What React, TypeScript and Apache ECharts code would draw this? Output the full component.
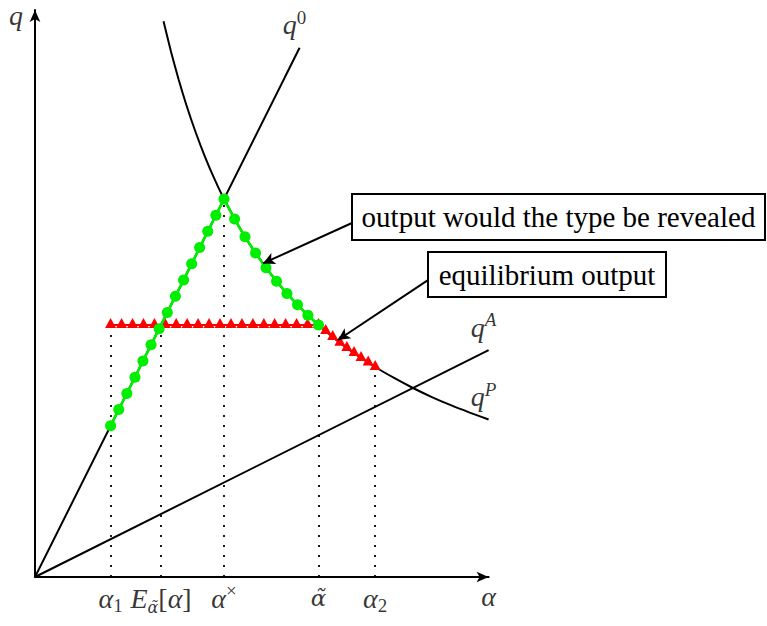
import React, { useEffect, useRef } from 'react';
import * as echarts from 'echarts';

const FONT = '"Liberation Serif", "Times New Roman", serif';
// a face with proper combining-mark placement, for the tilde accent
const ACCENT_FONT = '"DejaVu Serif", serif';

// axis extents: type α (horizontal) and output q (vertical)
const alphaMax = 2.4;
const qMax = 3;

// q^0 : straight line through the origin
const q0Alpha = [0, 1.4];
const q0Output = [0, 2.8];

// q^A : flatter line through the origin
const qAAlpha = [0, 2.4];
const qAOutput = [0, 1.2];

// q^P : decreasing convex curve
const qPAlpha = [0.68, 0.72, 0.76, 0.8, 0.85, 0.9, 0.95, 1.0, 1.1, 1.2, 1.3, 1.4, 1.5, 1.6, 1.7, 1.8, 1.9, 2.0, 2.1, 2.2, 2.3, 2.4];
const qPOutput = [2.941, 2.778, 2.632, 2.5, 2.353, 2.222, 2.105, 2.0, 1.818, 1.667, 1.538, 1.429, 1.333, 1.25, 1.176, 1.111, 1.053, 1.0, 0.952, 0.909, 0.87, 0.833];

// output would the type be revealed (green dots)
const revealedAlpha = [0.4, 0.443, 0.486, 0.529, 0.571, 0.614, 0.657, 0.7, 0.743, 0.786, 0.829, 0.871, 0.914, 0.957, 1.0, 1.056, 1.111, 1.167, 1.222, 1.278, 1.333, 1.389, 1.444, 1.5];
const revealedOutput = [0.8, 0.886, 0.971, 1.057, 1.143, 1.229, 1.314, 1.4, 1.486, 1.571, 1.657, 1.743, 1.829, 1.914, 2.0, 1.894, 1.8, 1.714, 1.636, 1.565, 1.5, 1.44, 1.385, 1.333];

// equilibrium output (red triangles)
const eqAlpha = [0.4, 0.458, 0.516, 0.574, 0.632, 0.689, 0.747, 0.805, 0.863, 0.921, 0.979, 1.037, 1.095, 1.153, 1.211, 1.268, 1.326, 1.384, 1.442, 1.5, 1.538, 1.575, 1.613, 1.65, 1.688, 1.725, 1.763, 1.8];
const eqOutput = [1.333, 1.333, 1.333, 1.333, 1.333, 1.333, 1.333, 1.333, 1.333, 1.333, 1.333, 1.333, 1.333, 1.333, 1.333, 1.333, 1.333, 1.333, 1.333, 1.333, 1.301, 1.27, 1.24, 1.212, 1.185, 1.159, 1.135, 1.111];

// marked types on the α axis, with the height of their dotted guides
const tickAlpha = [0.4, 0.667, 1.0, 1.5, 1.8];
const tickTop = [1.333, 1.333, 2.0, 1.333, 1.111];
const tickLabels = [
  '{m|α}{sub|1}',
  '{m|E}{subt|α̃}{r|[}{m|α}{r|]}',
  '{m|α}{sup|×}',
  '{t|α̃}',
  '{m|α}{sub|2}',
];

// curve names, anchored at each curve's end
const curveLabelAlpha = [1.4, 2.4, 2.4];
const curveLabelOutput = [2.8, 1.2, 0.833];
const curveLabels = ['{m|q}{sup|0}', '{m|q}{supm|A}', '{m|q}{supm|P}'];

// callouts: text, arrow start and arrow tip (data coordinates)
const calloutTexts = ['output would the type be revealed', 'equilibrium output'];
const calloutFrom = [[1.677, 1.873], [2.079, 1.571]];
const calloutTo = [[1.206, 1.659], [1.603, 1.254]];

const zip = (a: number[], b: number[]) => a.map((v, i) => [v, b[i]]);

const rich = {
  m: { fontFamily: FONT, fontStyle: 'italic', fontSize: 28, lineHeight: 34, color: '#000' },
  mt: { fontFamily: FONT, fontStyle: 'italic', fontSize: 28, lineHeight: 24, color: '#000' },
  t: { fontFamily: ACCENT_FONT, fontStyle: 'italic', fontSize: 23, lineHeight: 34, color: '#000' },
  r: { fontFamily: FONT, fontSize: 28, lineHeight: 34, color: '#000' },
  sub: { fontFamily: FONT, fontSize: 19, lineHeight: 18, verticalAlign: 'bottom', color: '#000' },
  subt: { fontFamily: ACCENT_FONT, fontStyle: 'italic', fontSize: 16, lineHeight: 14, verticalAlign: 'bottom', color: '#000' },
  sup: { fontFamily: FONT, fontSize: 19, lineHeight: 18, verticalAlign: 'top', color: '#000' },
  supm: { fontFamily: FONT, fontStyle: 'italic', fontSize: 19, lineHeight: 18, verticalAlign: 'top', color: '#000' },
};

const UNIT = 189; // pixels per unit on both axes
const ORIGIN_X = 35;
const ORIGIN_Y = 577;

const boxes = [
  { x: 352, y: 194, w: 413, h: 46 },
  { x: 428, y: 252, w: 238, h: 45 },
];

export default function App() {
  const ref = useRef<HTMLDivElement>(null);

  useEffect(() => {
    if (!ref.current) return;
    const chart = echarts.init(ref.current, null, { renderer: 'svg' });

    const black = { color: '#000', width: 2 };
    const labelPoint = (
      data: number[][],
      labels: string[],
      offset: number[],
    ) => ({
      type: 'scatter',
      silent: true,
      symbolSize: 1,
      itemStyle: { color: 'rgba(0,0,0,0)' },
      z: 6,
      data: data.map((d, i) => ({
        value: d,
        label: {
          show: true,
          position: 'inside',
          offset,
          formatter: labels[i],
          rich,
        },
      })),
    });

    const option: any = {
      animation: false,
      backgroundColor: '#fff',
      grid: {
        left: ORIGIN_X,
        top: ORIGIN_Y - qMax * UNIT,
        width: alphaMax * UNIT,
        height: qMax * UNIT,
      },
      xAxis: {
        type: 'value',
        min: 0,
        max: alphaMax,
        axisLine: {
          show: true,
          lineStyle: { color: '#000', width: 2 },
          symbol: ['none', 'arrow'],
          symbolSize: [8, 12],
        },
        axisTick: { show: false },
        axisLabel: { show: false },
        splitLine: { show: false },
      },
      yAxis: {
        type: 'value',
        min: 0,
        max: qMax,
        axisLine: {
          show: true,
          lineStyle: { color: '#000', width: 2 },
          symbol: ['none', 'arrow'],
          symbolSize: [8, 12],
        },
        axisTick: { show: false },
        axisLabel: { show: false },
        splitLine: { show: false },
      },
      series: [
        {
          type: 'line',
          name: 'qP',
          silent: true,
          symbol: 'none',
          smooth: 0.2,
          clip: false,
          z: 2,
          lineStyle: black,
          data: zip(qPAlpha, qPOutput),
        },
        {
          type: 'line',
          name: 'q0',
          silent: true,
          symbol: 'none',
          clip: false,
          z: 2,
          lineStyle: black,
          data: zip(q0Alpha, q0Output),
          markLine: {
            silent: true,
            z: 1,
            symbol: ['none', 'none'],
            label: { show: false },
            lineStyle: { color: '#000', width: 1.8, type: [2, 8] },
            data: tickAlpha.map((a, i) => [{ coord: [a, 0] }, { coord: [a, tickTop[i]] }]),
          },
        },
        {
          type: 'line',
          name: 'qA',
          silent: true,
          symbol: 'none',
          clip: false,
          z: 2,
          lineStyle: black,
          data: zip(qAAlpha, qAOutput),
          markLine: {
            silent: true,
            z: 8,
            symbol: ['none', 'arrow'],
            symbolSize: [9, 12],
            label: { show: false },
            lineStyle: { color: '#000', width: 2, type: 'solid' },
            data: calloutFrom.map((f, i) => [{ coord: f }, { coord: calloutTo[i] }]),
          },
        },
        {
          type: 'line',
          name: 'equilibrium',
          silent: true,
          symbol: 'triangle',
          symbolSize: [11, 10],
          symbolOffset: [0, -2],
          showAllSymbol: true,
          z: 3,
          itemStyle: { color: '#ff0000', borderWidth: 0, opacity: 1 },
          lineStyle: { color: '#ff0000', width: 2 },
          data: zip(eqAlpha, eqOutput),
        },
        {
          type: 'line',
          name: 'revealed',
          silent: true,
          symbol: 'circle',
          symbolSize: 11,
          showAllSymbol: true,
          z: 4,
          itemStyle: { color: '#00ee00', borderWidth: 0, opacity: 1 },
          lineStyle: { color: '#00ee00', width: 2.6 },
          data: zip(revealedAlpha, revealedOutput),
        },
        labelPoint(tickAlpha.map((a) => [a, 0]), tickLabels, [0, 21]),
        labelPoint(zip(curveLabelAlpha, curveLabelOutput), curveLabels, [-5, -23]),
        labelPoint([[alphaMax, 0]], ['{m|α}'], [0, 19]),
        labelPoint([[0, qMax]], ['{mt|q}'], [-19, 5]),
      ],
      graphic: boxes.flatMap((b, i) => [
        {
          type: 'rect',
          z: 20,
          shape: { x: b.x, y: b.y, width: b.w, height: b.h },
          style: { fill: '#fff', stroke: '#000', lineWidth: 2 },
        },
        {
          type: 'text',
          z: 21,
          x: b.x + b.w / 2,
          y: b.y + b.h / 2,
          style: {
            text: calloutTexts[i],
            font: `29px ${FONT}`,
            fill: '#000',
            textAlign: 'center',
            textVerticalAlign: 'middle',
            align: 'center',
            verticalAlign: 'middle',
          },
        },
      ]),
    };

    chart.setOption(option);
    return () => chart.dispose();
  }, []);

  return (
    <div
      ref={ref}
      style={{ position: 'absolute', left: 0, top: 0, width: 767, height: 626, background: '#fff' }}
    />
  );
}
